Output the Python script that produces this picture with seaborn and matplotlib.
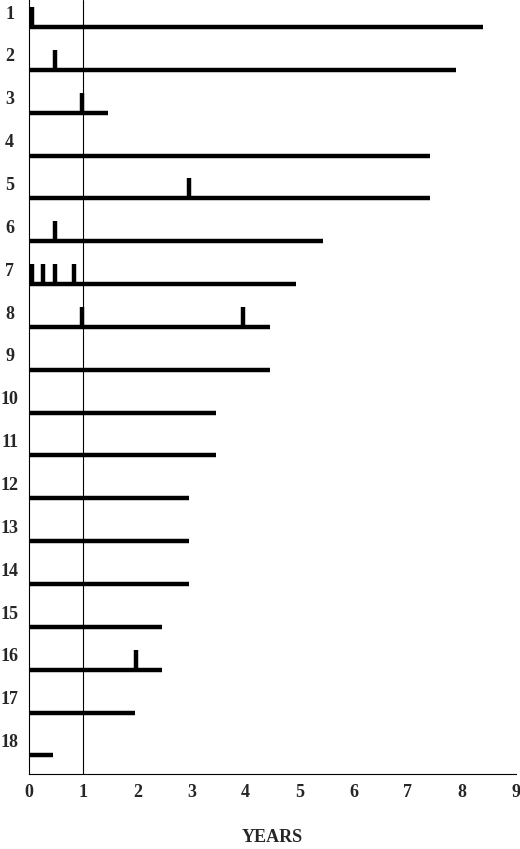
import matplotlib
matplotlib.use('Agg')
import matplotlib.pyplot as plt
import seaborn as sns

# ── Data ──────────────────────────────────────────────────────
patients = list(range(1, 19))
follow_up = [8.4, 7.9, 1.45, 7.42, 7.42, 5.43, 4.93, 4.45, 4.45,
             3.45, 3.45, 2.95, 2.95, 2.95, 2.45, 2.45, 1.95, 0.45]
# events marked as vertical ticks (patient, year)
event_patient = [1, 2, 3, 5, 6, 7, 7, 7, 7, 8, 8, 16]
event_year    = [0.05, 0.47, 0.97, 2.95, 0.47, 0.05, 0.25, 0.47, 0.83, 0.97, 3.95, 1.98]

sns.set_style('white')
plt.rcParams['font.family'] = ['Liberation Serif', 'DejaVu Serif']

fig = plt.figure(figsize=(5.2, 8.49), dpi=100)
ax = fig.add_axes([0.056, 0.088, 0.936, 0.912])

ax.hlines(patients, 0, follow_up, color='black', linewidth=3.2)
ax.vlines(event_year, event_patient, [p - 0.47 for p in event_patient],
          color='black', linewidth=3.2)
ax.axvline(1, color='black', linewidth=0.8)

for p in patients:
    ax.text(-0.04, p - 0.3, str(p), transform=ax.get_yaxis_transform(),
            ha='center', va='center', fontsize=13, fontweight='bold')

ax.set_xlim(0, 9)
ax.set_ylim(18.44, 0.37)
ax.set_xticks(range(10))
ax.set_yticks([])
ax.tick_params(axis='x', direction='in', length=7, width=0.8, pad=7,
               labelsize=13)
for lab in ax.get_xticklabels():
    lab.set_fontweight('bold')
ax.set_xlabel('YEARS', fontsize=13, fontweight='bold', labelpad=20)

sns.despine(ax=ax, top=True, right=True)
for s in ['left', 'bottom']:
    ax.spines[s].set_color('black')
    ax.spines[s].set_linewidth(0.8)

fig.savefig('out.png', dpi=100)
